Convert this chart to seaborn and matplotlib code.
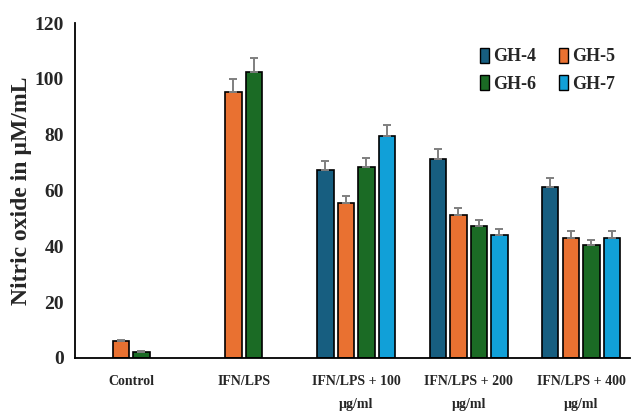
import numpy as np
import pandas as pd
import matplotlib
matplotlib.use("Agg")
import matplotlib.pyplot as plt
from matplotlib.patches import Patch
import seaborn as sns

categories = ["Control", "IFN/LPS", "IFN/LPS + 100\nµg/ml", "IFN/LPS + 200\nµg/ml", "IFN/LPS + 400\nµg/ml"]
series = ["GH-4", "GH-5", "GH-6", "GH-7"]
gh4 = [np.nan, np.nan, 67.4, 71.3, 61.4]
gh5 = [6.2, 95.4, 55.4, 51.4, 43.1]
gh6 = [2.2, 102.4, 68.5, 47.4, 40.3]
gh7 = [np.nan, np.nan, 79.5, 44.2, 43.1]
err4 = [0, 0, 3.2, 3.6, 3.2]
err5 = [0.4, 4.6, 2.7, 2.5, 2.3]
err6 = [0.3, 5.0, 3.2, 2.2, 1.9]
err7 = [0, 0, 3.8, 2.1, 2.3]
colors = ["#175e80", "#e97131", "#1b6b25", "#11a0d8"]

vals = [gh4, gh5, gh6, gh7]
errs = [err4, err5, err6, err7]
rows = []
for s, v, e in zip(series, vals, errs):
    for c, vv, ee in zip(categories, v, e):
        rows.append({"group": c, "series": s, "value": vv, "err": ee})
df = pd.DataFrame(rows)
df_plot = df.dropna(subset=["value"])

sns.set_style("white")
plt.rcParams["font.family"] = ["Liberation Serif", "DejaVu Serif"]
plt.rcParams["font.weight"] = "bold"

fig = plt.figure(figsize=(6.32, 4.11), dpi=100)
ax = fig.add_axes([0.119, 0.129, 0.878, 0.815])

sns.barplot(data=df_plot, x="group", y="value", hue="series", order=categories,
            hue_order=series, palette=colors, saturation=1, width=0.73, gap=0.2,
            dodge=True, edgecolor="black", linewidth=1.2, errorbar=None,
            legend=False, ax=ax)

for s, cont in zip(series, ax.containers):
    sub = df[df["series"] == s].set_index("group")
    for bar in cont:
        xc = bar.get_x() + bar.get_width() / 2
        h = bar.get_height()
        if np.isnan(h):
            continue
        cat = categories[int(round(xc))]
        e = sub.loc[cat, "err"]
        ax.errorbar(xc, h, yerr=[[0], [e]], fmt="none", ecolor="#7f7f7f",
                    elinewidth=1.4, capsize=3.0, capthick=1.4, zorder=3)

ax.set_ylim(0, 120)
ax.set_yticks(range(0, 121, 20))
ax.set_xlim(-0.498, 4.436)
ax.set_xlabel("")
ax.set_ylabel("Nitric oxide in µM/mL", fontsize=17, fontweight="bold", labelpad=2)
ax.tick_params(axis="y", labelsize=14, length=0, pad=8)
ax.tick_params(axis="x", labelsize=10, length=0, pad=12)
for lab in ax.get_yticklabels():
    lab.set_fontweight("bold")
for lab in ax.get_xticklabels():
    lab.set_fontweight("bold")
    lab.set_linespacing(2.0)

sns.despine(ax=ax, top=True, right=True)
ax.spines["left"].set_color("black")
ax.spines["bottom"].set_color("black")
ax.spines["left"].set_linewidth(1.3)
ax.spines["bottom"].set_linewidth(1.3)

handles = [Patch(facecolor=c, edgecolor="black", linewidth=1.0, label=s) for c, s in zip(colors, series)]
order = [0, 2, 1, 3]
leg = ax.legend(handles=[handles[i] for i in order], ncol=2, frameon=False, loc="upper right",
                bbox_to_anchor=(0.993, 0.915), bbox_transform=fig.transFigure,
                prop={"family": "Liberation Serif", "weight": "bold", "size": 13},
                handlelength=0.5, handleheight=0.9, handletextpad=0.2,
                columnspacing=1.3, labelspacing=0.55, borderpad=0.2)

fig.savefig("out.png", dpi=100)
